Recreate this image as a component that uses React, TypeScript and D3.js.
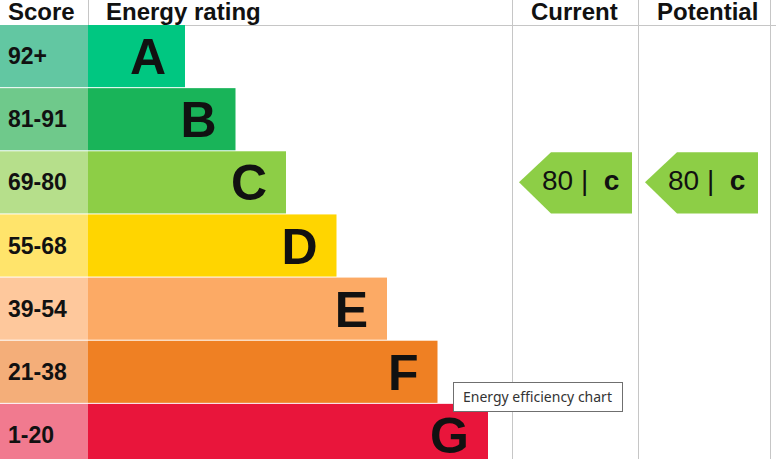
import React from 'react';
import * as d3 from 'd3';

// EPC bands, best to worst
const bandLetters = ['A', 'B', 'C', 'D', 'E', 'F', 'G'];
const scoreRanges = ['92+', '81-91', '69-80', '55-68', '39-54', '21-38', '1-20'];
const bandMinScore = [92, 81, 69, 55, 39, 21, 1];
const bandRank = [1, 2, 3, 4, 5, 6, 7];
const bandColors = ['#00c781', '#19b459', '#8dce46', '#ffd500', '#fcaa65', '#ef8023', '#e9153b'];
const scoreCellColors = ['#62c7a2', '#6fc98b', '#b6df8b', '#ffe46b', '#fec89c', '#f4ae79', '#f17a8f'];

const columnTitles = ['Current', 'Potential'];
const columnScores = [80, 80];

const W = 776;
const H = 459;
const headerH = 25;
const scoreColW = 88;
const colEdges = [512, 638, 770];
const gridColor = '#c6c6c6';

const bandOf = (score: number) => bandMinScore.findIndex(m => score >= m);

const App: React.FC = () => {
  const y = d3.scaleBand<string>()
    .domain(bandLetters)
    .range([headerH, headerH + 63 * bandLetters.length])
    .paddingInner(1 / 63)
    .paddingOuter(0);

  const barLen = d3.scaleLinear().domain([1, 7]).range([97, 400]);

  return (
    <svg width={W} height={H} style={{ position: 'absolute', left: 0, top: 0, background: '#fff' }}
      fontFamily="'Liberation Sans', Arial, sans-serif">
      {/* grid */}
      <g stroke={gridColor} strokeWidth={1}>
        <line x1={0} x2={W} y1={headerH + 0.5} y2={headerH + 0.5} />
        <line x1={scoreColW + 0.5} x2={scoreColW + 0.5} y1={0} y2={headerH} />
        {colEdges.map(x => (
          <line key={x} x1={x + 0.5} x2={x + 0.5} y1={0} y2={H} />
        ))}
      </g>

      {/* headers */}
      <g fontWeight="bold" fontSize={24} fill="#111">
        <text x={8} y={19.5}>Score</text>
        <text x={106} y={19.5}>Energy rating</text>
        {columnTitles.map((t, i) => (
          <text key={t} x={colEdges[i] + 19} y={19.5}>{t}</text>
        ))}
      </g>

      {/* bands */}
      {bandLetters.map((l, i) => {
        const y0 = y(l) as number;
        const bh = y.bandwidth();
        const cy = y0 + bh / 2;
        const end = scoreColW + barLen(bandRank[i]);
        return (
          <g key={l}>
            <rect x={0} y={y0} width={scoreColW} height={bh} fill={scoreCellColors[i]} />
            <rect x={scoreColW} y={y0} width={end - scoreColW} height={bh} fill={bandColors[i]} />
            <text x={8} y={cy + 8} fontSize={23} fontWeight="bold" fill="#111">{scoreRanges[i]}</text>
            <text x={end - 19} y={cy + 18} fontSize={50} fontWeight="bold" textAnchor="end" fill="#111">{l}</text>
          </g>
        );
      })}

      {/* current / potential arrows */}
      {columnScores.map((s, i) => {
        const b = bandOf(s);
        const y0 = y(bandLetters[b]) as number;
        const bh = y.bandwidth();
        const cy = y0 + bh / 2;
        const x0 = colEdges[i] + 7;
        const x1 = x0 + 113;
        const path = d3.path();
        path.moveTo(x0, cy);
        path.lineTo(x0 + 32, y0 + 1);
        path.lineTo(x1, y0 + 1);
        path.lineTo(x1, y0 + bh);
        path.lineTo(x0 + 32, y0 + bh);
        path.closePath();
        return (
          <g key={i}>
            <path d={path.toString()} fill={bandColors[b]} />
            <text x={x0 + 23} y={cy + 8} fontSize={28} fill="#111" style={{ whiteSpace: 'pre' }}>
              {`${s} |  `}<tspan fontWeight="bold">{bandLetters[b].toLowerCase()}</tspan>
            </text>
          </g>
        );
      })}

      {/* hover tooltip */}
      <g>
        <rect x={453.5} y={382.5} width={169} height={29} fill="#fff" stroke="#6f6f6f" />
        <text x={463} y={402} fontSize={14} fill="#333" fontFamily="'Noto Sans', 'Open Sans', sans-serif">
          Energy efficiency chart
        </text>
      </g>
    </svg>
  );
};

export default App;
